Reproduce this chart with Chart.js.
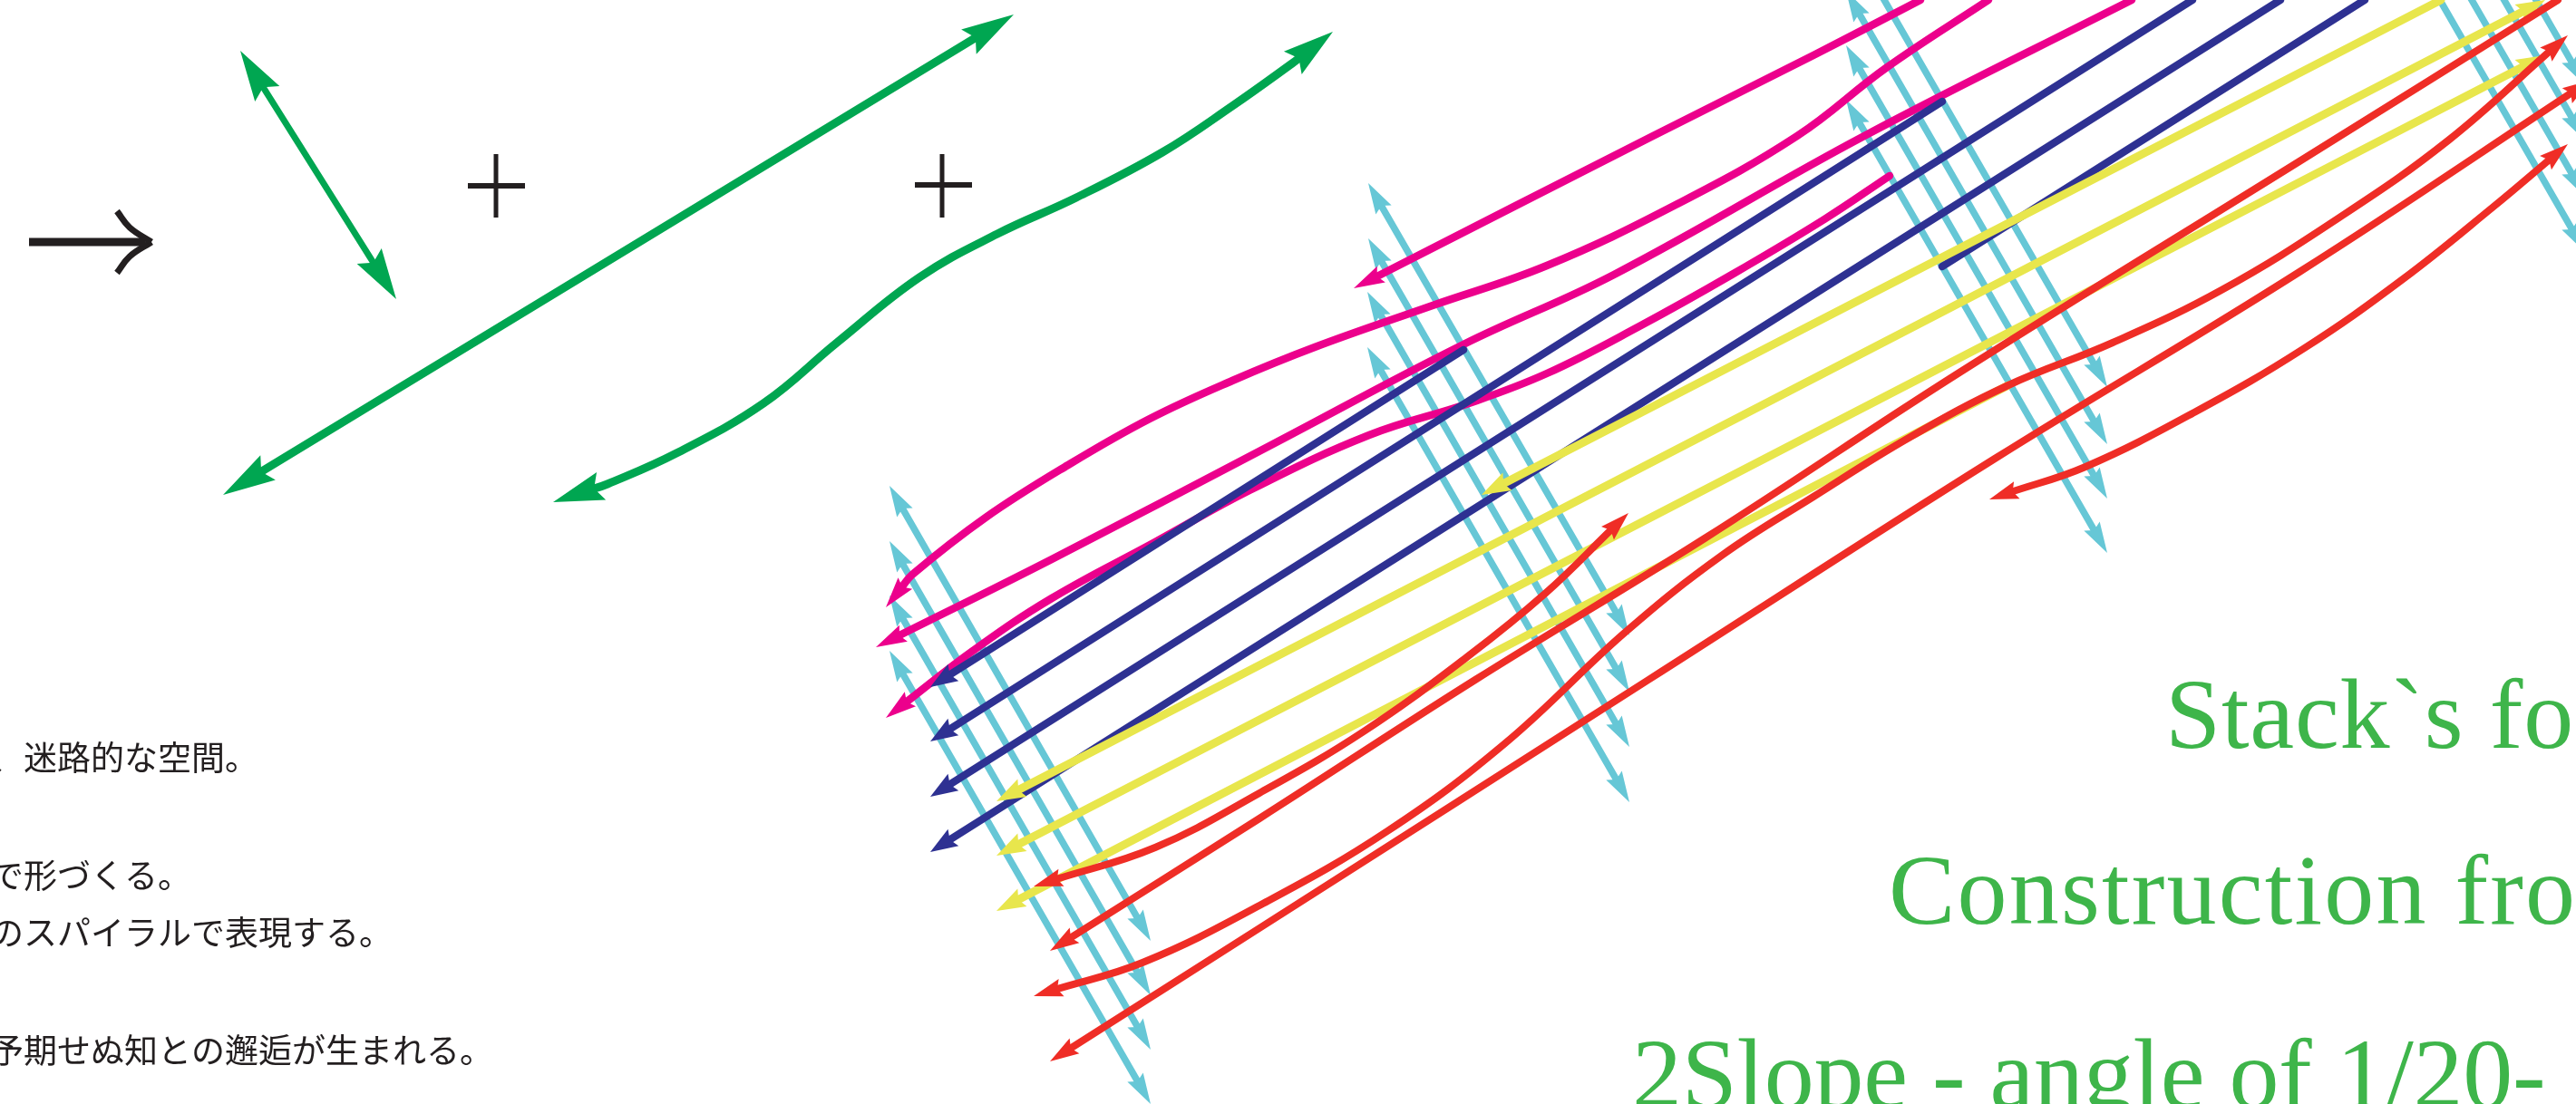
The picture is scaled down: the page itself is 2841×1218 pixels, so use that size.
<!DOCTYPE html>
<html>
<head>
<meta charset="utf-8">
<style>
  html, body { margin: 0; padding: 0; background: #fff; overflow: hidden; }
  canvas { display: block; }
</style>
<script src="https://cdn.jsdelivr.net/npm/chart.js@4"></script>
</head>
<body>
<canvas id="chart" width="2841" height="1218"></canvas>
<script>
// every line as [x, y], ends are the arrow tips
const cyanA = [
    [[981, 536], [1269, 1038]], [[981, 597], [1269, 1098]],
    [[981, 657], [1269, 1158]], [[981, 718], [1269, 1218]]
]
const cyanB = [
    [[1509, 202], [1797, 701]], [[1509, 263], [1797, 763]],
    [[1508, 322], [1797, 824]], [[1508, 383], [1797, 885]]
]
const cyanC = [
    [[2036, -73], [2324, 427]], [[2036, -10], [2324, 490]],
    [[2036, 50], [2324, 550]], [[2036, 110], [2324, 610]]
]
const cyanD = [
    [[2563, -406], [2851, 94]], [[2563, -345], [2851, 155]],
    [[2563, -283], [2851, 217]], [[2563, -222], [2851, 278]]
]

const magenta1 = [[1493, 318], [1823, 150], [2000, 61], [2118, 0]]
const magenta2 = [[977, 670], [1006, 634], [1087, 571], [1178, 513], [1268, 462], [1359, 420], [1450, 383], [1580, 337], [1706, 293], [1848, 226], [1982, 150], [2080, 75], [2193, 0]]
const magenta3 = [[966, 714], [1160, 617], [1400, 492], [1614, 380], [1780, 303], [2056, 150], [2351, 0]]
const magenta4 = [[977, 792], [1073, 718], [1160, 660], [1274, 598], [1378, 541], [1510, 480], [1620, 445], [1706, 412], [1808, 360], [1910, 303], [2012, 242], [2084, 194]]

const blue1 = [[1026, 758], [1614, 386]]
const blue2 = [[1026, 818], [2142, 112]]
const blue3 = [[1026, 879], [2418, 0]]
const blue4 = [[1026, 940], [2515, 0]]
const blue5 = [[2142, 294], [2608, 0]]

const yellow1 = [[1099, 884], [2807, 0]]
const yellow2 = [[1099, 944], [2807, 61]]
const yellow3 = [[1099, 1005], [2215, 425]]
const yellow4 = [[1634, 546], [2692, 0]]

const red1 = [[1140, 978], [1274, 935], [1389, 875], [1504, 807], [1619, 724], [1705, 654], [1796, 566]]
const red2 = [[1158, 1049], [1389, 903], [1627, 750], [1880, 594], [2161, 411], [2536, 178], [2821, 0]]
const red3 = [[1140, 1099], [1260, 1062], [1389, 999], [1530, 917], [1660, 820], [1793, 697], [1900, 612], [2000, 548], [2107, 482], [2215, 425], [2330, 378], [2450, 320], [2580, 240], [2700, 155], [2832, 39]]
const red4 = [[1158, 1171], [1389, 1024], [1818, 750], [2200, 506], [2536, 300], [2858, 88]]
const red5 = [[2194, 551], [2300, 515], [2420, 455], [2540, 385], [2650, 308], [2750, 228], [2832, 159]]

const greenShort = [[265, 56], [437, 330]]
const greenLong = [[246, 546], [1118, 16]]
const greenCurve = [[610, 554], [670, 534], [746, 500], [842, 445], [923, 378], [1014, 306], [1100, 258], [1187, 218], [1282, 168], [1359, 117], [1425, 70], [1470, 35]]

const plus1Up = [[547, 170], [547, 240]]
const plus1Across = [[516, 205], [579, 205]]
const plus2Up = [[1039, 170], [1039, 240]]
const plus2Across = [[1009, 204], [1072, 204]]
const bigArrowShaft = [[32, 267], [160, 267]]
const bigArrowWingTop = [[129, 233], [143, 251], [167, 267]]
const bigArrowWingBottom = [[129, 301], [143, 283], [167, 267]]

const jpLines = ['、迷路的な空間。', 'で形づくる。', 'のスパイラルで表現する。', '予期せぬ知との邂逅が生まれる。']
const jpBaselines = [850, 980, 1043, 1173]
const titleLines = ['Stack`s fo', 'Construction from', '2Slope - angle of 1/20-']
const titleX = [2388, 2083, 1800]
const titleBaselines = [825, 1019, 1222]
const titleTracking = ['0.8px', '2.2px', '-0.3px']

const MAGENTA = '#EC008C'
const BLUE = '#2E3192'
const YELLOW = '#E8E64C'
const RED = '#EF2D26'
const CYAN = '#66C7D6'
const GREEN = '#00A651'
const INK = '#231F20'

const datasets = []

// head: 'start', 'end', 'both' or 'none'
function addLine(pts, color, width, head, len, half) {
    const data = pts.map(p => ({ x: p[0], y: p[1] }))
    const tips = []
    if (head === 'start' || head === 'both') {
        tips.push(pullBack(data, 0, 1, len))
    }
    if (head === 'end' || head === 'both') {
        tips.push(pullBack(data, data.length - 1, data.length - 2, len))
    }
    datasets.push({
        data: data,
        showLine: true,
        pointRadius: 0,
        borderColor: color,
        borderWidth: width,
        borderCapStyle: color === INK ? 'butt' : 'round',
        tension: pts.length > 2 ? 0.4 : 0,
        tips: tips,
        headLen: len,
        headHalf: half
    })
}

// shaft stops inside the head, the tip itself is kept for the plugin
function pullBack(data, end, next, len) {
    const tip = data[end]
    const dx = data[next].x - tip.x
    const dy = data[next].y - tip.y
    const d = Math.hypot(dx, dy)
    const ux = dx / d
    const uy = dy / d
    data[end] = { x: tip.x + ux * len * 0.75, y: tip.y + uy * len * 0.75 }
    return { x: tip.x, y: tip.y, ux: ux, uy: uy }
}

// first added is on top
addLine(red1, RED, 8, 'both', 32, 10)
addLine(red2, RED, 8, 'start', 32, 10)
addLine(red3, RED, 8, 'both', 32, 10)
addLine(red4, RED, 8, 'both', 32, 10)
addLine(red5, RED, 8, 'both', 32, 10)
addLine(yellow1, YELLOW, 9, 'both', 32, 11)
addLine(yellow2, YELLOW, 9, 'both', 32, 11)
addLine(yellow3, YELLOW, 9, 'start', 32, 11)
addLine(yellow4, YELLOW, 9, 'start', 32, 11)
addLine(blue1, BLUE, 8.5, 'start', 30, 11)
addLine(blue2, BLUE, 8.5, 'start', 30, 11)
addLine(blue3, BLUE, 8.5, 'start', 30, 11)
addLine(blue4, BLUE, 8.5, 'start', 30, 11)
addLine(blue5, BLUE, 8.5, 'none', 0, 0)
addLine(magenta1, MAGENTA, 8.5, 'start', 34, 10)
addLine(magenta2, MAGENTA, 8.5, 'start', 34, 10)
addLine(magenta3, MAGENTA, 8.5, 'start', 34, 10)
addLine(magenta4, MAGENTA, 8.5, 'start', 34, 10)
cyanA.concat(cyanB, cyanC, cyanD).forEach(pts => addLine(pts, CYAN, 7.5, 'both', 34, 10))
addLine(greenShort, GREEN, 7, 'both', 56, 16)
addLine(greenLong, GREEN, 9, 'both', 58, 16)
addLine(greenCurve, GREEN, 9, 'both', 56, 16)
addLine(plus1Up, INK, 5, 'none', 0, 0)
addLine(plus1Across, INK, 6, 'none', 0, 0)
addLine(plus2Up, INK, 5, 'none', 0, 0)
addLine(plus2Across, INK, 6, 'none', 0, 0)
addLine(bigArrowShaft, INK, 9, 'none', 0, 0)
addLine(bigArrowWingTop, INK, 7, 'none', 0, 0)
addLine(bigArrowWingBottom, INK, 7, 'none', 0, 0)

const arrowHeads = {
    id: 'arrowHeads',
    afterDatasetDraw(chart, args) {
        const ds = chart.data.datasets[args.index]
        const ctx = chart.ctx
        ctx.save()
        ctx.fillStyle = ds.borderColor
        ds.tips.forEach(t => {
            const x = chart.scales.x.getPixelForValue(t.x)
            const y = chart.scales.y.getPixelForValue(t.y)
            const bx = x + t.ux * ds.headLen
            const by = y + t.uy * ds.headLen
            ctx.beginPath()
            ctx.moveTo(x, y)
            ctx.lineTo(bx - t.uy * ds.headHalf, by + t.ux * ds.headHalf)
            ctx.lineTo(x + t.ux * ds.headLen * 0.85, y + t.uy * ds.headLen * 0.85)
            ctx.lineTo(bx + t.uy * ds.headHalf, by - t.ux * ds.headHalf)
            ctx.closePath()
            ctx.fill()
        })
        ctx.restore()
    }
}

const posterText = {
    id: 'posterText',
    afterDraw(chart) {
        const ctx = chart.ctx
        ctx.save()
        ctx.textBaseline = 'alphabetic'
        ctx.textAlign = 'left'
        ctx.fillStyle = INK
        ctx.font = '400 37px "Noto Sans CJK JP"'
        jpLines.forEach((line, i) => {
            ctx.fillText(line, chart.scales.x.getPixelForValue(-11), chart.scales.y.getPixelForValue(jpBaselines[i]))
        })
        ctx.fillStyle = '#3EB54A'
        ctx.font = '110px "Liberation Serif"'
        titleLines.forEach((line, i) => {
            ctx.letterSpacing = titleTracking[i]
            ctx.fillText(line, chart.scales.x.getPixelForValue(titleX[i]), chart.scales.y.getPixelForValue(titleBaselines[i]))
        })
        ctx.restore()
    }
}

new Chart(document.getElementById('chart').getContext('2d'), {
    type: 'scatter',
    data: { datasets: datasets },
    options: {
        responsive: false,
        animation: false,
        devicePixelRatio: 1,
        layout: { padding: 0 },
        plugins: { legend: { display: false }, title: { display: false }, tooltip: { enabled: false } },
        scales: {
            x: { type: 'linear', min: 0, max: 2841, display: false },
            y: { type: 'linear', min: 0, max: 1218, reverse: true, display: false }
        }
    },
    plugins: [arrowHeads, posterText]
})
</script>
</body>
</html>
